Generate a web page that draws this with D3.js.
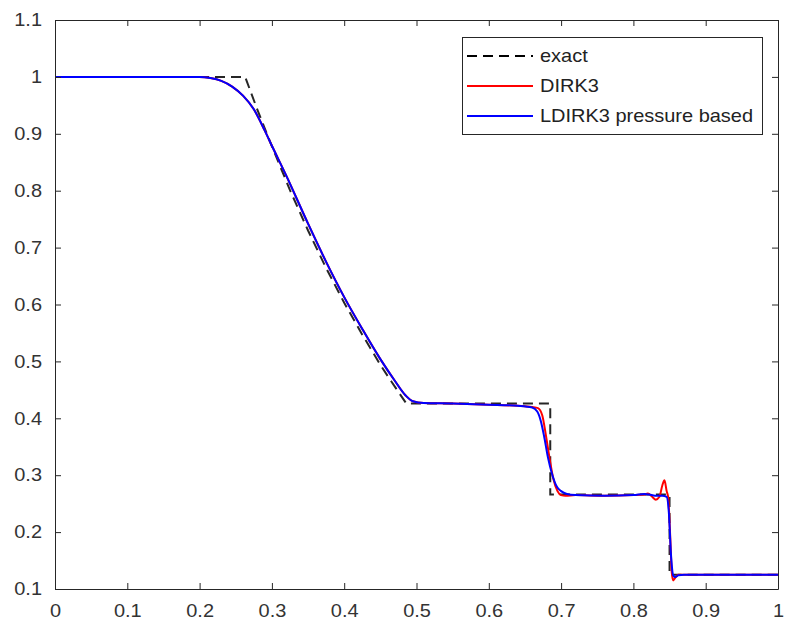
<!DOCTYPE html>
<html>
<head>
<meta charset="utf-8">
<script src="https://cdn.jsdelivr.net/npm/d3@7"></script>
<style>
  body { margin: 0; background: #fff; }
  text { font-family: "Liberation Sans", Arial, sans-serif; }
</style>
</head>
<body>
<div id="chart"></div>
<script>
// tick values and labels
var xTicks = [0, 0.1, 0.2, 0.3, 0.4, 0.5, 0.6, 0.7, 0.8, 0.9, 1];
var xTickLabels = ['0', '0.1', '0.2', '0.3', '0.4', '0.5', '0.6', '0.7', '0.8', '0.9', '1'];
var yTicks = [0.1, 0.2, 0.3, 0.4, 0.5, 0.6, 0.7, 0.8, 0.9, 1, 1.1];
var yTickLabels = ['0.1', '0.2', '0.3', '0.4', '0.5', '0.6', '0.7', '0.8', '0.9', '1', '1.1'];

// exact solution
var exactX = [0, 0.263, 0.28, 0.3, 0.325, 0.35, 0.375, 0.4, 0.425, 0.45, 0.465, 0.486, 0.685, 0.685, 0.850, 0.850, 1];
var exactY = [1, 1, 0.942, 0.878, 0.801, 0.730, 0.664, 0.603, 0.547, 0.494, 0.465, 0.426, 0.426, 0.266, 0.266, 0.125, 0.125];

// DIRK3
var dirkX = [0, 0.20, 0.215, 0.23, 0.245, 0.26, 0.275, 0.29, 0.30, 0.32, 0.35, 0.375, 0.40, 0.425, 0.45, 0.47, 0.485, 0.495, 0.51, 0.55, 0.60, 0.64, 0.66, 0.668, 0.674, 0.679, 0.684, 0.689, 0.695, 0.70, 0.706, 0.72, 0.76, 0.80, 0.815, 0.82, 0.826, 0.831, 0.836, 0.840, 0.843, 0.846, 0.848, 0.851, 0.853, 0.855, 0.858, 0.862, 0.87, 1];
var dirkY = [1, 1, 0.998, 0.993, 0.983, 0.967, 0.943, 0.906, 0.879, 0.826, 0.742, 0.675, 0.613, 0.557, 0.504, 0.466, 0.440, 0.430, 0.427, 0.426, 0.424, 0.422, 0.420, 0.418, 0.405, 0.370, 0.330, 0.295, 0.272, 0.265, 0.264, 0.265, 0.264, 0.265, 0.266, 0.268, 0.262, 0.257, 0.262, 0.282, 0.291, 0.272, 0.262, 0.190, 0.130, 0.115, 0.120, 0.125, 0.125, 0.125];

// LDIRK3 pressure based
var ldirkX = [0, 0.20, 0.215, 0.23, 0.245, 0.26, 0.275, 0.29, 0.30, 0.32, 0.35, 0.375, 0.40, 0.425, 0.45, 0.47, 0.485, 0.495, 0.51, 0.55, 0.60, 0.64, 0.66, 0.667, 0.672, 0.677, 0.682, 0.688, 0.694, 0.70, 0.708, 0.72, 0.76, 0.80, 0.815, 0.822, 0.83, 0.84, 0.846, 0.849, 0.852, 0.855, 0.858, 0.862, 0.87, 1];
var ldirkY = [1, 1, 0.998, 0.993, 0.983, 0.967, 0.943, 0.906, 0.879, 0.826, 0.742, 0.675, 0.613, 0.557, 0.504, 0.466, 0.440, 0.430, 0.427, 0.426, 0.424, 0.422, 0.419, 0.412, 0.395, 0.365, 0.330, 0.300, 0.280, 0.272, 0.267, 0.265, 0.264, 0.265, 0.267, 0.266, 0.264, 0.264, 0.262, 0.235, 0.160, 0.124, 0.121, 0.124, 0.125, 0.125];

var seriesNames = ['exact', 'DIRK3', 'LDIRK3 pressure based'];
var seriesColors = ['#000000', '#ff0000', '#0000ff'];

var width = 785, height = 626;
var margin = {left: 55, right: 7, top: 20, bottom: 37};
var axisColor = '#262626';
var stretch = 1.11; // text in the picture is a little wider than the font

var svg = d3.select('#chart').append('svg')
	.attr('width', width)
	.attr('height', height);

var x = d3.scaleLinear().domain([0, 1]).range([margin.left, width - margin.right]);
var y = d3.scaleLinear().domain([0.1, 1.1]).range([height - margin.bottom, margin.top]);

// lines
function toPoints(xs, ys) { return xs.map(function(d, i) { return [d, ys[i]]; }); }
var line = d3.line().x(function(d) { return x(d[0]); }).y(function(d) { return y(d[1]); });
var smooth = d3.line().x(function(d) { return x(d[0]); }).y(function(d) { return y(d[1]); }).curve(d3.curveMonotoneX);

var plot = svg.append('g');

plot.append('path')
	.datum(toPoints(exactX, exactY))
	.attr('d', line)
	.attr('fill', 'none')
	.attr('stroke', seriesColors[0])
	.attr('stroke-opacity', 0.85)
	.attr('stroke-width', 2)
	.attr('stroke-dasharray', '10,6');

plot.append('path')
	.datum(toPoints(dirkX, dirkY))
	.attr('d', smooth)
	.attr('fill', 'none')
	.attr('stroke', seriesColors[1])
	.attr('stroke-width', 2);

plot.append('path')
	.datum(toPoints(ldirkX, ldirkY))
	.attr('d', smooth)
	.attr('fill', 'none')
	.attr('stroke', seriesColors[2])
	.attr('stroke-width', 2);

// axes (ticks inward, box)
var bottomAxis = svg.append('g')
	.attr('transform', 'translate(0,' + (height - margin.bottom) + ')')
	.call(d3.axisBottom(x).tickValues(xTicks).tickFormat(function(d, i) { return xTickLabels[i]; })
		.tickSizeInner(-6).tickSizeOuter(0).tickPadding(15));
var topAxis = svg.append('g')
	.attr('transform', 'translate(0,' + margin.top + ')')
	.call(d3.axisTop(x).tickValues(xTicks).tickFormat('').tickSizeInner(-6).tickSizeOuter(0));
var leftAxis = svg.append('g')
	.attr('transform', 'translate(' + margin.left + ',0)')
	.call(d3.axisLeft(y).tickValues(yTicks).tickFormat(function(d, i) { return yTickLabels[i]; })
		.tickSizeInner(-6).tickSizeOuter(0).tickPadding(13));
var rightAxis = svg.append('g')
	.attr('transform', 'translate(' + (width - margin.right) + ',0)')
	.call(d3.axisRight(y).tickValues(yTicks).tickFormat('').tickSizeInner(-6).tickSizeOuter(0));

[bottomAxis, topAxis, leftAxis, rightAxis].forEach(function(a) {
	a.select('.domain').attr('stroke', axisColor);
	a.selectAll('.tick line').attr('stroke', axisColor);
	a.selectAll('.tick text')
		.attr('fill', '#333')
		.style('font-size', '18px')
		.style('font-family', '"Liberation Sans", Arial, sans-serif');
});

bottomAxis.selectAll('.tick text')
	.attr('transform', 'scale(' + stretch + ',1)');
leftAxis.selectAll('.tick text')
	.attr('x', -13 / stretch)
	.attr('transform', 'scale(' + stretch + ',1)');

// legend
var legend = svg.append('g');
legend.append('rect')
	.attr('x', 462.5).attr('y', 37.5)
	.attr('width', 300).attr('height', 97)
	.attr('fill', '#fff')
	.attr('stroke', axisColor)
	.attr('stroke-width', 1);

var rowY = [56, 86, 116];
seriesNames.forEach(function(name, i) {
	legend.append('line')
		.attr('x1', 467).attr('x2', 533)
		.attr('y1', rowY[i]).attr('y2', rowY[i])
		.attr('stroke', seriesColors[i])
		.attr('stroke-width', 2)
		.attr('stroke-dasharray', i === 0 ? '10,6' : null);
	legend.append('text')
		.attr('transform', 'translate(540,' + rowY[i] + ') scale(' + stretch + ',1)')
		.attr('dy', '0.35em')
		.attr('fill', '#222')
		.style('font-size', '18px')
		.text(name);
});
</script>
</body>
</html>
